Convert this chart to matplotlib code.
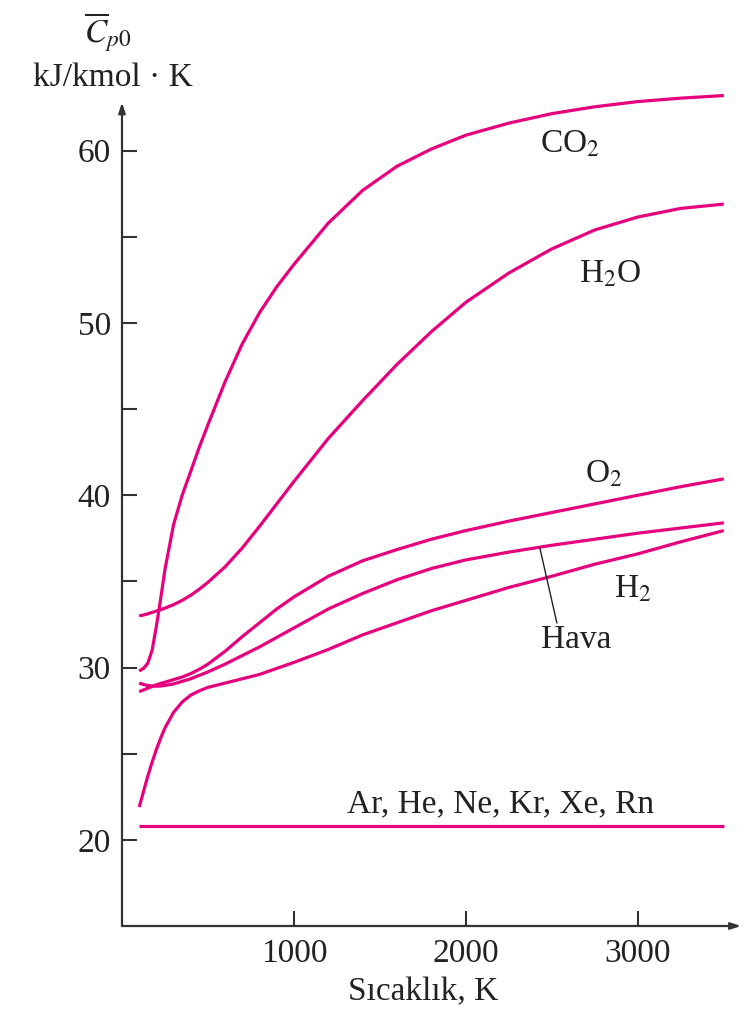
import matplotlib
matplotlib.use("Agg")
import matplotlib.pyplot as plt

plt.rcParams["font.family"] = ["Liberation Serif", "DejaVu Serif"]
plt.rcParams["mathtext.fontset"] = "stix"

# temperature grid (K) and cp values (kJ/kmol K)
temps = [100, 125, 150, 175, 200, 225, 250, 300, 350, 400, 450, 500, 600,
         700, 800, 900, 1000, 1200, 1400, 1600, 1800, 2000, 2250, 2500,
         2750, 3000, 3250, 3500]
cp_co2 = [29.8, 29.95, 30.25, 31.0, 32.4, 34.0, 35.7, 38.3, 40.0, 41.4,
          42.8, 44.1, 46.6, 48.8, 50.6, 52.1, 53.4, 55.8, 57.7, 59.1, 60.1,
          60.9, 61.6, 62.15, 62.55, 62.85, 63.05, 63.2]
cp_h2o = [33.0, 33.05, 33.12, 33.2, 33.28, 33.36, 33.45, 33.65, 33.9, 34.2,
          34.55, 34.95, 35.85, 36.95, 38.2, 39.5, 40.8, 43.3, 45.5, 47.6,
          49.5, 51.2, 52.9, 54.3, 55.4, 56.15, 56.65, 56.9]
cp_o2 = [28.6, 28.7, 28.8, 28.9, 29.0, 29.08, 29.15, 29.3, 29.45, 29.65,
         29.9, 30.2, 30.95, 31.8, 32.6, 33.4, 34.1, 35.3, 36.2, 36.85,
         37.45, 37.95, 38.5, 39.0, 39.5, 40.0, 40.5, 40.95]
cp_air = [29.1, 29.02, 28.96, 28.93, 28.92, 28.93, 28.96, 29.05, 29.2,
          29.35, 29.55, 29.75, 30.2, 30.7, 31.2, 31.75, 32.3, 33.4, 34.3,
          35.1, 35.75, 36.25, 36.7, 37.1, 37.45, 37.8, 38.1, 38.4]
cp_h2 = [21.9, 22.8, 23.7, 24.5, 25.25, 25.9, 26.5, 27.4, 28.0, 28.4, 28.65,
         28.85, 29.1, 29.35, 29.6, 29.95, 30.3, 31.05, 31.9, 32.6, 33.3,
         33.9, 34.65, 35.3, 36.0, 36.6, 37.3, 37.95]
cp_noble = [20.8] * len(temps)

series = [cp_co2, cp_h2o, cp_o2, cp_air, cp_h2, cp_noble]

W, H = 756, 1014
fig = plt.figure(figsize=(W / 100, H / 100), dpi=100)
ax = fig.add_axes([122 / W, 1 - 926 / H, (741 - 122) / W, (926 - 99) / H])
ax.set_xlim(0, 3600)
ax.set_ylim(15, 63)

mag = "#e6007e"
for cp in series:
    ax.plot(temps, cp, color=mag, lw=2.3, clip_on=False,
            solid_capstyle="butt", solid_joinstyle="round")

for s in ax.spines.values():
    s.set_visible(False)

axc = "#333333"
arrow = dict(arrowstyle="-|>,head_length=0.6,head_width=0.2",
             color=axc, lw=1.6, shrinkA=0, shrinkB=0)
ax.annotate("", xy=(0, 62.8), xytext=(0, 15), arrowprops=arrow,
            annotation_clip=False)
ax.annotate("", xy=(3600, 15), xytext=(0, 15), arrowprops=arrow,
            annotation_clip=False)

ax.set_xticks([1000, 2000, 3000])
ax.set_yticks([20, 30, 40, 50, 60])
ax.set_yticks([25, 35, 45, 55], minor=True)
ax.tick_params(axis="both", which="both", direction="in", length=11,
               width=1.5, color=axc, labelsize=24, labelcolor="#222222")
ax.tick_params(axis="y", pad=8)
ax.tick_params(axis="x", pad=9)

tc = "#222222"
ax.text(2605, 60.35, "CO$_2$", fontsize=24, color=tc, ha="center", va="center")
ax.text(2837, 52.8, "H$_2$O", fontsize=24, color=tc, ha="center", va="center")
ax.text(2802, 41.2, "O$_2$", fontsize=24, color=tc, ha="center", va="center")
ax.text(2971, 34.57, "H$_2$", fontsize=24, color=tc, ha="center", va="center")
ax.text(2640, 31.6, "Hava", fontsize=24, color=tc, ha="center", va="center")
ax.text(2203, 22.1, "Ar, He, Ne, Kr, Xe, Rn", fontsize=24, color=tc,
        ha="center", va="center")
ax.plot([2430, 2529], [36.95, 32.6], color=tc, lw=1.0)

fig.text(108 / W, 1 - 32 / H, r"$\overline{C}_{p0}$", fontsize=24, color=tc,
         ha="center", va="center")
fig.text(113 / W, 1 - 78 / H, "kJ/kmol · K", fontsize=24, color=tc,
         ha="center", va="center")
fig.text(423 / W, 1 - 992 / H, "Sıcaklık, K", fontsize=24, color=tc,
         ha="center", va="center")

fig.savefig("out.png", dpi=100)
